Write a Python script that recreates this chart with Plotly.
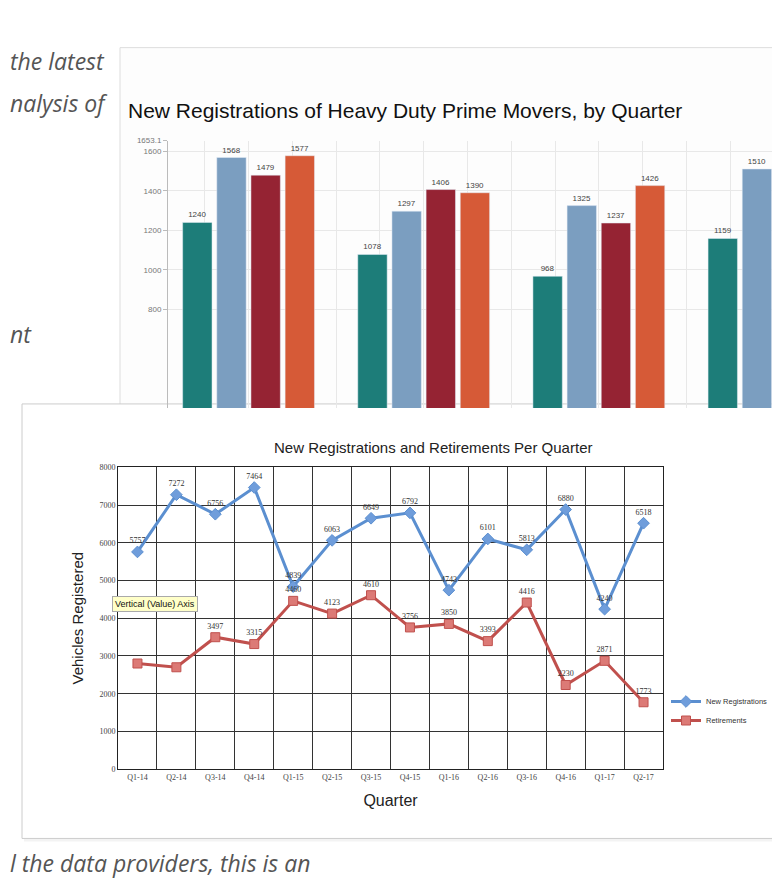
import plotly.graph_objects as go

W, H = 780, 878

# ---------------- data ----------------
years = ["2014", "2015", "2016", "2017"]
bar_q1 = [1240, 1078, 968, 1159]
bar_q2 = [1568, 1297, 1325, 1510]
bar_q3 = [1479, 1406, 1237, None]
bar_q4 = [1577, 1390, 1426, None]
bar_ticks = [800, 1000, 1200, 1400, 1600, 1653.1]
bar_ticktext = ["800", "1000", "1200", "1400", "1600", "1653.1"]

quarters = ["Q1-14", "Q2-14", "Q3-14", "Q4-14", "Q1-15", "Q2-15", "Q3-15",
            "Q4-15", "Q1-16", "Q2-16", "Q3-16", "Q4-16", "Q1-17", "Q2-17"]
new_reg = [5757, 7272, 6756, 7464, 4839, 6063, 6649, 6792, 4743, 6101, 5813, 6880, 4240, 6518]
retire = [2800, 2700, 3497, 3315, 4460, 4123, 4610, 3756, 3850, 3393, 4416, 2230, 2871, 1773]
retire_labels = ["", "", "3497", "3315", "4460", "4123", "4610", "3756", "3850",
                 "3393", "4416", "2230", "2871", "1773"]

bar_colors = ["#1d7d79", "#7b9ec0", "#952333", "#d65a37"]


def px(x):
    return x / W


def py(y):
    return 1 - y / H


fig = go.Figure()

# bar chart (top card)
for i, (vals, col) in enumerate(zip([bar_q1, bar_q2, bar_q3, bar_q4], bar_colors)):
    fig.add_trace(go.Bar(
        x=list(range(len(years))), y=vals, marker_color=col,
        text=[str(v) if v is not None else "" for v in vals],
        textposition="outside", textfont=dict(size=8, color="#444", family="Liberation Sans"),
        showlegend=False, xaxis="x", yaxis="y", name="Q%d" % (i + 1)))

# line chart (bottom card)
fig.add_trace(go.Scatter(
    x=list(range(len(quarters))), y=new_reg, mode="lines+markers+text",
    name="New Registrations", line=dict(color="#5b8fd0", width=3),
    marker=dict(symbol="diamond", size=9, color="#6f9ddb", line=dict(color="#5b8fd0", width=1)),
    text=[str(v) for v in new_reg], textposition="top center",
    textfont=dict(size=8, color="#333", family="Liberation Serif"),
    xaxis="x2", yaxis="y2", cliponaxis=False))
fig.add_trace(go.Scatter(
    x=list(range(len(quarters))), y=retire, mode="lines+markers+text",
    name="Retirements", line=dict(color="#c0504d", width=3),
    marker=dict(symbol="square", size=9, color="#dc7a76", line=dict(color="#c0504d", width=1)),
    text=retire_labels, textposition="top center",
    textfont=dict(size=8, color="#333", family="Liberation Serif"),
    xaxis="x2", yaxis="y2", cliponaxis=False))

shapes = [
    # bar card
    dict(type="rect", xref="paper", yref="paper", x0=px(112), x1=px(800), y0=py(402), y1=py(36),
         fillcolor="#fdfdfd", line=dict(color="#dddddd", width=1), layer="below"),
    # line card shadow + card
    dict(type="rect", xref="paper", yref="paper", x0=px(16), x1=px(800), y0=py(838), y1=py(398),
         fillcolor="#f3f3f3", line=dict(width=0), layer="below"),
    dict(type="rect", xref="paper", yref="paper", x0=px(14), x1=px(800), y0=py(835), y1=py(396),
         fillcolor="#ffffff", line=dict(color="#cccccc", width=1), layer="below"),
]

annotations = [
    dict(text="New Registrations of Heavy Duty Prime Movers, by Quarter", x=px(118), y=py(100),
         xref="paper", yref="paper", xanchor="left", yanchor="middle", showarrow=False,
         font=dict(size=21, color="#111", family="Liberation Sans")),
    dict(text="New Registrations and Retirements Per Quarter", x=px(425), y=py(440),
         xref="paper", yref="paper", xanchor="center", yanchor="middle", showarrow=False,
         font=dict(size=15, color="#222", family="Liberation Sans")),
    dict(text="Vertical (Value) Axis", x=px(104), y=py(598), xref="paper", yref="paper",
         xanchor="left", yanchor="middle", showarrow=False, bgcolor="#ffffc8",
         bordercolor="#aaaaaa", borderwidth=1, borderpad=2,
         font=dict(size=9, color="#111", family="Liberation Sans")),
]

# background page text fragments
page_text = [("the latest", 0, 50), ("nalysis of", 0, 92), ("nt", 0, 325),
             ("l the data providers, this is an", 0, 860)]
for t, x0, y0 in page_text:
    annotations.append(dict(text="<i>%s</i>" % t, x=px(x0), y=py(y0), xref="paper", yref="paper",
                            xanchor="left", yanchor="middle", showarrow=False,
                            font=dict(size=23, color="#555", family="Open Sans")))

fig.update_layout(
    width=W, height=H, margin=dict(l=0, r=0, t=0, b=0),
    paper_bgcolor="white", plot_bgcolor="rgba(0,0,0,0)",
    barmode="group", bargap=0.22, bargroupgap=0.14,
    shapes=shapes, annotations=annotations,
    xaxis=dict(domain=[px(160), 1.0], range=[-0.46, 3.08], showticklabels=False,
               showgrid=True, tick0=-0.5, dtick=0.25, gridcolor="#e8e8e8", zeroline=False,
               ticks=""),
    yaxis=dict(domain=[py(400), py(130)], range=[303, 1653.1], tickvals=bar_ticks,
               ticktext=bar_ticktext, tickfont=dict(size=8, color="#777", family="Liberation Sans"),
               showgrid=True, gridcolor="#e8e8e8", showline=True, linecolor="#bbbbbb",
               ticks="outside", ticklen=4, tickcolor="#bbbbbb", zeroline=False),
    xaxis2=dict(domain=[px(110), px(655)], range=[-0.5, 13.5], anchor="y2",
                tickvals=list(range(len(quarters))), ticktext=quarters,
                tickfont=dict(size=8, color="#444", family="Liberation Serif"),
                showgrid=False, showline=True, linecolor="#222", mirror=True, zeroline=False,
                minor=dict(tickvals=[i - 0.5 for i in range(len(quarters) + 1)],
                           showgrid=True, gridcolor="#333", gridwidth=1),
                title=dict(text="Quarter", font=dict(size=16, color="#222", family="Liberation Sans"),
                           standoff=14)),
    yaxis2=dict(domain=[py(765), py(460)], range=[0, 8000], dtick=1000, anchor="x2",
                tickfont=dict(size=8, color="#444", family="Liberation Serif"),
                showgrid=True, gridcolor="#333", gridwidth=1, showline=True, linecolor="#222",
                mirror=True, zeroline=False,
                title=dict(text="Vehicles Registered", font=dict(size=15, color="#222",
                                                                 family="Liberation Sans"),
                           standoff=12)),
    legend=dict(x=px(658), y=py(682), xanchor="left", yanchor="top", bgcolor="rgba(0,0,0,0)",
                font=dict(size=7.5, color="#333", family="Liberation Sans"), itemwidth=30,
                tracegroupgap=2),
)

fig.write_html("out.html")
